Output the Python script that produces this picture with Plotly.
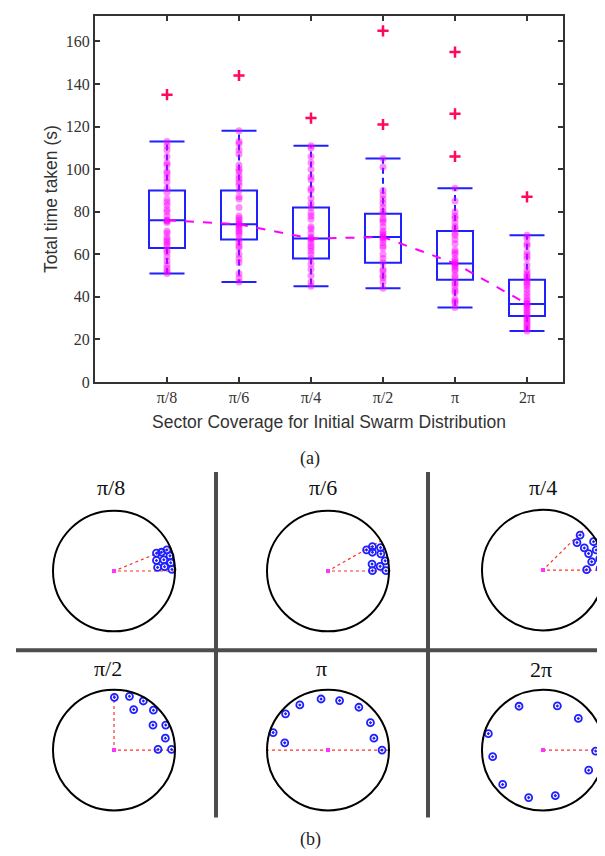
import plotly.graph_objects as go
import numpy as np

W, H = 605, 856

# ---------------- data (a) ----------------
categories = ["π/8", "π/6", "π/4", "π/2", "π", "2π"]
q1 = [63, 67, 58, 56, 48, 31]
median = [76, 74.1, 67.4, 68.1, 55.7, 36.7]
q3 = [90, 90, 82, 79, 71, 48]
lower_whisker = [51, 47, 45, 44, 35, 24]
upper_whisker = [113, 118, 111, 105, 91, 69]

runs_pi8 = [113, 111, 109, 106, 103, 102, 99, 98, 96, 94, 91, 89, 86, 84.5, 83, 81, 80, 78,
            76, 76, 75.5, 75, 71, 70, 68, 67, 66, 65, 64, 62, 61, 59, 57, 55, 53.5, 52, 51]
runs_pi6 = [118, 113, 112, 109, 107, 102, 100, 99, 97, 95.5, 94, 92.5, 90, 87, 86, 82, 78, 77,
            76, 75, 74, 74, 73, 72, 71, 70, 69, 67, 65.5, 64, 63, 60, 58, 56, 51, 49, 47]
runs_pi4 = [111, 110, 106, 103, 100, 96.5, 95, 91, 90, 86.5, 84, 82, 79.5, 78, 76.5, 73, 72, 70,
            68, 67.5, 67, 65.5, 64, 63, 61.5, 60, 58, 55.5, 53, 50, 47, 45]
runs_pi2 = [105, 101, 90, 88, 86, 84, 82, 80, 79, 77, 76, 75, 73, 71, 70, 69, 68, 68, 67, 65.5,
            64, 63, 60, 58, 56, 53, 52, 50, 49, 47, 44]
runs_pi = [91, 85, 80, 78, 77, 75, 73, 72, 70, 69, 67, 65, 62, 61, 60, 58, 57, 56, 55.5, 55, 54,
           53, 52, 50, 49, 47, 46, 44.5, 43, 42, 39, 38, 37, 35]
runs_2pi = [69, 67.5, 65, 64, 61, 59.5, 58, 55, 52.5, 51, 50, 49, 48, 47, 46, 45, 43.5, 42, 40.5,
            39, 38, 37, 36.5, 36, 35, 34, 33, 32, 31, 30, 29, 28, 27, 26, 25, 24]
runs = [runs_pi8, runs_pi6, runs_pi4, runs_pi2, runs_pi, runs_2pi]

outliers = [[135], [144], [124], [165, 121], [155, 126, 106], [87]]

# ---------------- data (b) ----------------
sector_angles = [np.pi / 8, np.pi / 6, np.pi / 4, np.pi / 2, np.pi, 2 * np.pi]
agents_x = [
    [0.696, 0.778, 0.867, 0.696, 0.816, 0.918, 0.930, 0.715, 0.829, 0.950],
    [0.633, 0.728, 0.861, 0.728, 0.867, 0.937, 0.722, 0.855, 0.728, 0.950],
    [0.608, 0.557, 0.829, 0.677, 0.873, 0.747, 0.930, 0.798, 0.715, 0.937],
    [0.006, 0.253, 0.481, 0.323, 0.646, 0.639, 0.848, 0.842, 0.722, 0.943],
    [-0.899, -0.709, -0.696, -0.462, -0.114, 0.190, 0.506, 0.696, 0.753, 0.886],
    [-0.393, 0.235, 0.579, -0.896, -0.825, -0.661, -0.235, 0.202, 0.749, 0.863],
]
agents_y = [
    [0.295, 0.311, 0.350, 0.175, 0.186, 0.251, 0.137, 0.060, 0.071, 0.027],
    [0.350, 0.404, 0.388, 0.311, 0.284, 0.169, 0.115, 0.077, 0.005, 0.005],
    [0.579, 0.454, 0.470, 0.366, 0.333, 0.273, 0.186, 0.137, 0.005, 0.027],
    [0.874, 0.891, 0.814, 0.672, 0.661, 0.415, 0.415, 0.197, 0.011, 0.011],
    [0.290, 0.120, 0.601, 0.749, 0.847, 0.820, 0.710, 0.454, 0.197, 0.000],
    [0.727, 0.732, 0.525, 0.273, -0.109, -0.568, -0.787, -0.754, -0.333, -0.016],
]

# ---------------- layout geometry (pixels) ----------------
def px(x):
    return x / W

def py(y):
    return 1 - y / H

BLUE = "#1f1fff"
MAG = "#ff00ff"
RED = "#ff0a5a"
AX = "#333333"

fig = go.Figure()
xpos = list(range(1, len(categories) + 1))

# boxes (whiskers drawn separately, dashed, MATLAB style)
for i in range(len(categories)):
    fig.add_trace(go.Box(
        x=[xpos[i]], q1=[q1[i]], median=[median[i]], q3=[q3[i]],
        lowerfence=[q1[i]], upperfence=[q3[i]],
        boxpoints=False, width=0.5, whiskerwidth=0,
        line=dict(color=BLUE, width=2), fillcolor="rgba(0,0,0,0)",
        showlegend=False, hoverinfo="skip", xaxis="x", yaxis="y"))

wx, wy = [], []
for i in range(len(categories)):
    wx += [xpos[i], xpos[i], None, xpos[i], xpos[i], None]
    wy += [q3[i], upper_whisker[i], None, q1[i], lower_whisker[i], None]
fig.add_trace(go.Scatter(x=wx, y=wy, mode="lines", line=dict(color=BLUE, width=2, dash="6px,4px"),
                         showlegend=False, hoverinfo="skip", xaxis="x", yaxis="y"))
fig.add_trace(go.Scatter(x=xpos + xpos, y=upper_whisker + lower_whisker, mode="markers",
                         marker=dict(symbol="line-ew", size=25, line=dict(color=BLUE, width=2)),
                         showlegend=False, hoverinfo="skip", xaxis="x", yaxis="y"))

for i in range(len(categories)):
    fig.add_trace(go.Scatter(
        x=[xpos[i]] * len(runs[i]), y=runs[i], mode="markers",
        marker=dict(color=MAG, size=7, opacity=0.45, line=dict(width=0)),
        showlegend=False, hoverinfo="skip", xaxis="x", yaxis="y"))

fig.add_trace(go.Scatter(
    x=xpos, y=median, mode="lines",
    line=dict(color=MAG, width=2, dash="dash"),
    showlegend=False, hoverinfo="skip", xaxis="x", yaxis="y"))

for i in range(len(categories)):
    fig.add_trace(go.Scatter(
        x=[xpos[i]] * len(outliers[i]), y=outliers[i], mode="markers",
        marker=dict(color=RED, size=8, symbol="cross-thin", line=dict(color=RED, width=2.5)),
        showlegend=False, hoverinfo="skip", xaxis="x", yaxis="y"))

tickfont = dict(family="Liberation Serif", size=16, color=AX)
fig.update_layout(
    xaxis=dict(domain=[px(87), px(555)], range=[0, 6.5], tickvals=xpos, ticktext=categories,
               ticks="inside", ticklen=5, tickwidth=1.5, tickcolor=AX, showline=True,
               linecolor=AX, linewidth=2, mirror="ticks", showgrid=False, zeroline=False,
               tickfont=tickfont, anchor="y"),
    yaxis=dict(domain=[py(378), py(8)], range=[0, 172], tickvals=list(range(0, 161, 20)),
               ticks="inside", ticklen=5, tickwidth=1.5, tickcolor=AX, showline=True,
               linecolor=AX, linewidth=2, mirror="ticks", showgrid=False, zeroline=False,
               tickfont=tickfont, anchor="x"),
)

def ann(text, x, y, font, angle=0):
    return dict(text=text, x=px(x), y=py(y), xref="paper", yref="paper", showarrow=False,
                xanchor="center", yanchor="middle", textangle=angle, font=font)

annotations = [
    ann("Total time taken (s)", 43, 193, dict(family="Liberation Sans", size=17.5, color=AX), -90),
    ann("Sector Coverage for Initial Swarm Distribution", 321, 418,
        dict(family="Liberation Sans", size=17.5, color=AX)),
    ann("(a)", 302, 455, dict(family="Liberation Serif", size=18, color="#222")),
    ann("(b)", 302, 840, dict(family="Liberation Serif", size=18, color="#222")),
]

# ---------------- panels (b) ----------------
R = 61.0
HALF = 68.0
centers = [(106, 569), (320, 569), (535, 568), (106, 750), (320, 750), (535, 750)]
title_pos = [(103, 485), (315, 485), (535, 485), (100, 668), (313, 668), (533, 669)]
shapes = []
for k in range(6):
    n = k + 2
    xa, ya = f"xaxis{n}", f"yaxis{n}"
    xr, yr = f"x{n}", f"y{n}"
    cx, cy = centers[k]
    lim = HALF / R
    fig.update_layout(**{
        xa: dict(domain=[px(cx - HALF), px(cx + HALF)], range=[-lim, lim], visible=False,
                 anchor=yr, fixedrange=True),
        ya: dict(domain=[py(cy + HALF), py(cy - HALF)], range=[-lim, lim], visible=False,
                 anchor=xr, fixedrange=True),
    })
    shapes.append(dict(type="circle", xref=xr, yref=yr, x0=-1, x1=1, y0=-1, y1=1,
                       line=dict(color="black", width=2)))
    th = sector_angles[k]
    if th < 2 * np.pi - 1e-9:
        bx = [1.0, 0.0, float(np.cos(th))]
        by = [0.0, 0.0, float(np.sin(th))]
    else:
        bx = [0.0, 1.0]
        by = [0.0, 0.0]
    fig.add_trace(go.Scatter(x=bx, y=by, mode="lines",
                             line=dict(color="#ff3030", width=1.2, dash="dot"),
                             showlegend=False, hoverinfo="skip", xaxis=xr, yaxis=yr))
    fig.add_trace(go.Scatter(x=agents_x[k], y=agents_y[k], mode="markers",
                             marker=dict(symbol="circle-open-dot", size=7, color=BLUE,
                                         line=dict(color=BLUE, width=1.8)),
                             showlegend=False, hoverinfo="skip", xaxis=xr, yaxis=yr))
    fig.add_trace(go.Scatter(x=[0], y=[0], mode="markers",
                             marker=dict(symbol="square", size=4, color="#ff33ff"),
                             showlegend=False, hoverinfo="skip", xaxis=xr, yaxis=yr))
    tx, ty = title_pos[k]
    annotations.append(ann(categories[k], tx, ty,
                           dict(family="Liberation Serif", size=22, color="#111")))

SEP = "#4d4d4d"
shapes += [
    dict(type="line", xref="paper", yref="paper", x0=px(208), x1=px(208), y0=py(469), y1=py(818),
         line=dict(color=SEP, width=4)),
    dict(type="line", xref="paper", yref="paper", x0=px(420), x1=px(420), y0=py(469), y1=py(818),
         line=dict(color=SEP, width=4)),
    dict(type="line", xref="paper", yref="paper", x0=px(8), x1=px(605), y0=py(649), y1=py(649),
         line=dict(color=SEP, width=4)),
]

fig.update_layout(
    width=W, height=H, margin=dict(l=0, r=0, t=0, b=0),
    paper_bgcolor="white", plot_bgcolor="white",
    shapes=shapes, annotations=annotations, showlegend=False,
)

fig.write_html("out.html", config={"displayModeBar": False})
